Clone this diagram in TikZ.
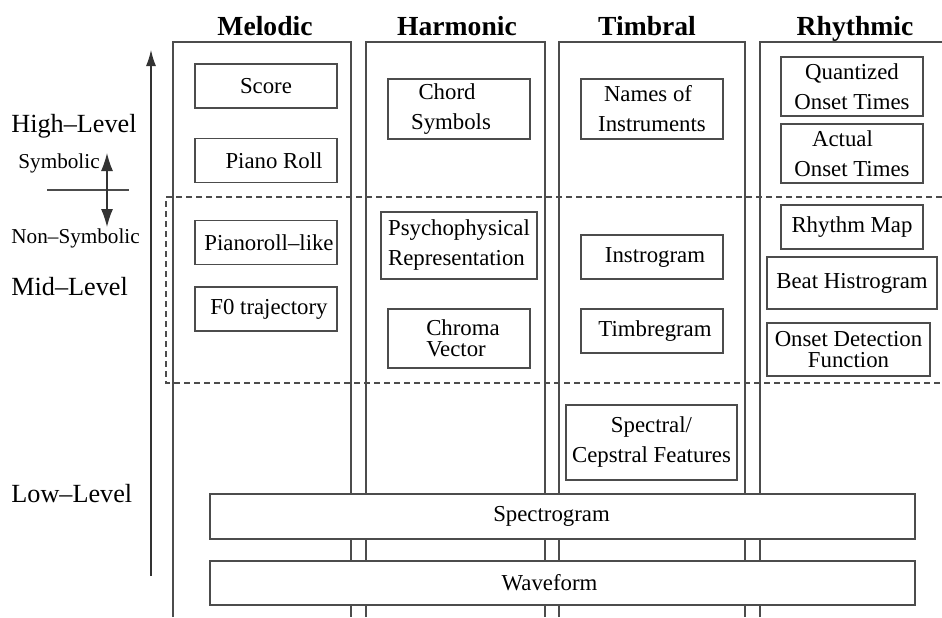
\documentclass[tikz,border=0pt]{standalone}
\usepackage{fontspec}
\setmainfont{Liberation Serif}
\usetikzlibrary{arrows.meta}
\tikzset{
    rep/.style={draw=black!70, fill=white, line width=0.6pt, inner sep=1pt, minimum width=71pt, minimum height=22pt, align=center, font=\fontsize{11.4}{15}\selectfont},
    twoline/.style={rep, minimum height=30pt},
    tight/.style={font=\fontsize{11.4}{10.5}\selectfont},
    column/.style={draw=black!70, line width=0.6pt},
    colhead/.style={font=\fontsize{13.8}{16}\selectfont\bfseries, anchor=base},
    level/.style={font=\fontsize{13.1}{16}\selectfont, anchor=base west, inner sep=0pt},
    symlabel/.style={font=\fontsize{10.6}{13}\selectfont, anchor=base west, inner sep=0pt},
    midzone/.style={dash pattern=on 3pt off 2pt, draw=black!70, line width=0.6pt},
    levelarrow/.style={draw=black!80, line width=0.6pt, -{Latex[length=8pt, width=5pt]}},
    bothways/.style={draw=black!80, line width=0.6pt, {Latex[length=9pt, width=6pt]}-{Latex[length=9pt, width=6pt]}}
}

\begin{document}
\begin{tikzpicture}[x=0.5pt, y=-0.5pt]
    \useasboundingbox (0,0) rectangle (942,617);
    % the four columns, open at the bottom
    \draw[column] (173,617) -- (173,42) -- (351,42) -- (351,617);
    \draw[column] (366,617) -- (366,42) -- (545,42) -- (545,617);
    \draw[column] (559,617) -- (559,42) -- (745,42) -- (745,617);
    \draw[column] (760,617) -- (760,42) -- (942,42);
    \node[colhead] (melodic) at (265,35) {Melodic};
    \node[colhead] (harmonic) at (457,35) {Harmonic};
    \node[colhead] (timbral) at (647,35) {Timbral};
    \node[colhead] (rhythmic) at (855,35) {Rhythmic};
    % mid-level zone
    \draw[midzone] (942,197) -- (166,197) -- (166,383) -- (942,383);
    % levels on the left
    \node[level] (high) at (11,132) {High–Level};
    \node[level] (mid) at (11,295) {Mid–Level};
    \node[level] (low) at (11,502) {Low–Level};
    \node[symlabel] (symb) at (18,168) {Symbolic};
    \node[symlabel] (nonsymb) at (11,243) {Non–Symbolic};
    \coordinate (axisbot) at (151,576);
    \coordinate (axistop) at (151,50);
    \draw[levelarrow] (axisbot) -- (axistop);
    \coordinate (symtop) at (107,153);
    \coordinate (symbot) at (107,227);
    \coordinate (sepl) at (47,190);
    \coordinate (sepr) at (129,190);
    \draw[column] (sepl) -- (sepr);
    \draw[bothways] (symbot) -- (symtop);
    % melodic
    \node[rep] (score) at (266,86) {Score};
    \node[rep] (pianoroll) at (266,160.5) {\hspace*{8pt}Piano Roll};
    \node[rep] (prlike) at (266,242.5) {\hspace*{3pt}Pianoroll–like};
    \node[rep] (fzero) at (266,309) {\hspace*{3pt}F0 trajectory};
    % harmonic
    \node[twoline] (chord) at (459,109) {Chord\hspace*{12pt}\\Symbols\hspace*{8pt}};
    \node[twoline, minimum width=78pt, minimum height=33.5pt, align=left] (psycho) at (459,245.5) {Psychophysical\\Representation};
    \node[twoline, tight, minimum height=29.5pt, align=left] (chroma) at (459,338.5) {\hspace*{4pt}Chroma\\\hspace*{4pt}Vector};
    % timbral
    \node[twoline] (names) at (652,109) {Names of\hspace*{4pt}\\Instruments};
    \node[rep] (instro) at (652,257) {\hspace*{3pt}Instrogram};
    \node[rep] (timbre) at (652,331) {\hspace*{3pt}Timbregram};
    \node[twoline, minimum width=85.5pt, minimum height=37.5pt] (spectral) at (651.5,442.5) {Spectral/\\Cepstral Features};
    % rhythmic
    \node[twoline, minimum height=29.5pt] (quant) at (852,86.5) {Quantized\\Onset Times};
    \node[twoline, minimum height=29.5pt] (actual) at (852,153.5) {Actual\hspace*{9.5pt}\\Onset Times};
    \node[rep] (rmap) at (852,227) {Rhythm Map};
    \node[rep, minimum width=85pt, minimum height=26pt] (beat) at (852,283) {Beat Histrogram};
    \node[twoline, tight, minimum width=81.5pt, minimum height=26.5pt] (odf) at (848.5,349.5) {Onset Detection\\Function};
    % low level, across all columns
    \node[rep, minimum width=352.5pt, minimum height=22.5pt] (spectro) at (562.5,516.5) {Spectrogram\hspace*{11pt}};
    \node[rep, minimum width=352.5pt] (wave) at (562.5,583) {Waveform\hspace*{13pt}};
\end{tikzpicture}
\end{document}
